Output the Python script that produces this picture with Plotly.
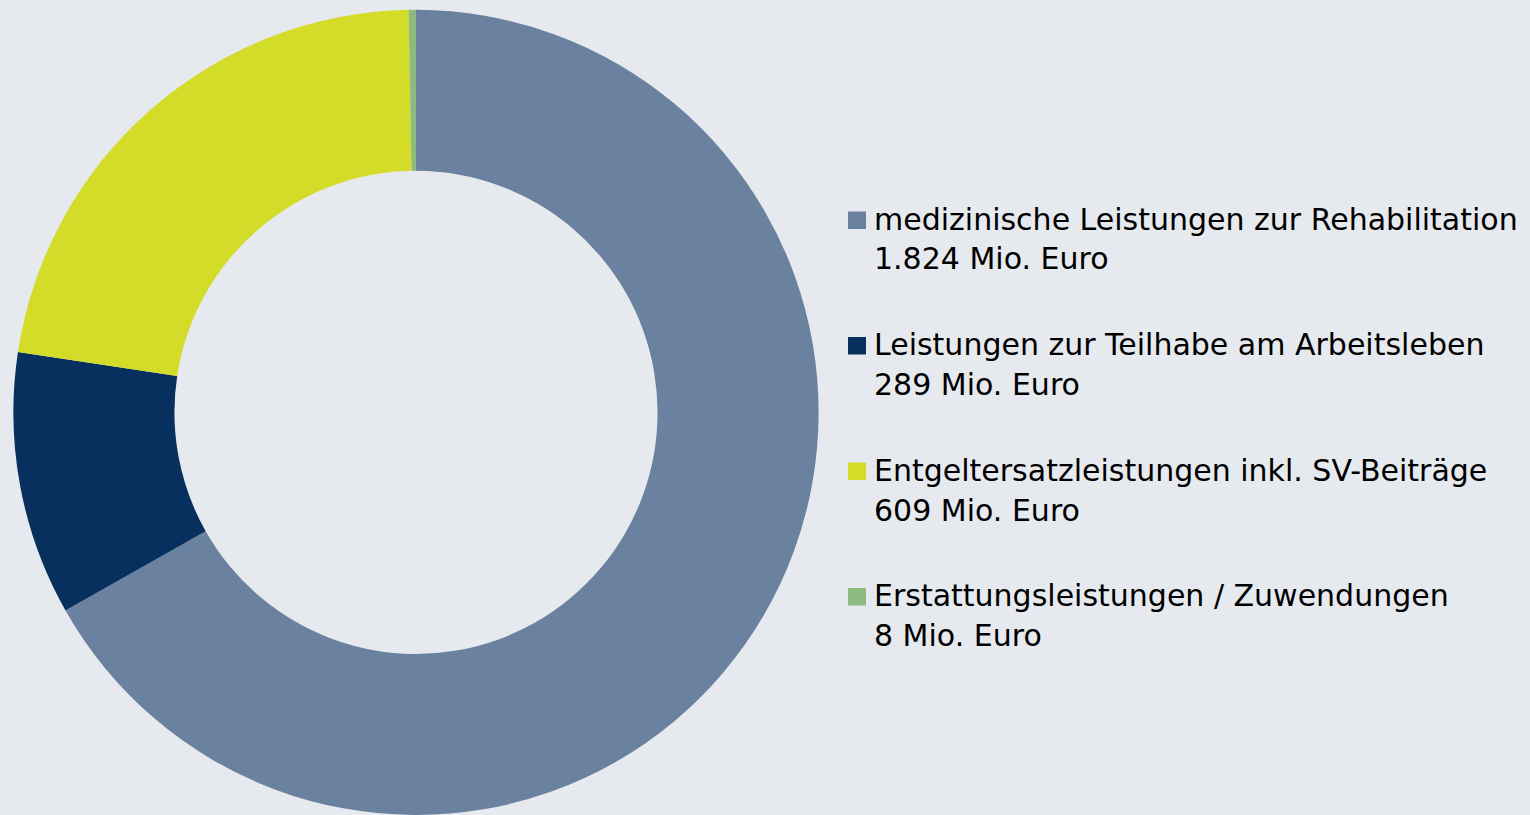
import plotly.graph_objects as go

W, H = 1530, 815

labels = [
    "medizinische Leistungen zur Rehabilitation",
    "Leistungen zur Teilhabe am Arbeitsleben",
    "Entgeltersatzleistungen inkl. SV-Beiträge",
    "Erstattungsleistungen / Zuwendungen",
]
values = [1824, 289, 609, 8]
value_labels = ["1.824 Mio. Euro", "289 Mio. Euro", "609 Mio. Euro", "8 Mio. Euro"]
colors = ["#6a829f", "#07305f", "#d4dc2a", "#8cba7f"]

bg = "#e6e9ee"

fig = go.Figure(
    go.Pie(
        labels=labels,
        values=values,
        hole=0.6,
        sort=False,
        direction="clockwise",
        rotation=0,
        marker=dict(colors=colors, line=dict(width=0)),
        textinfo="none",
        hoverinfo="label+value",
        domain=dict(x=[12 / W, 820 / W], y=[0.0, 0.988]),
        showlegend=False,
    )
)

font = dict(family="DejaVu Sans", size=30, color="#000000")
first_y = 219
step = 125.5
line_gap = 40
shapes = []
annotations = []
for i, (lab, val, col) in enumerate(zip(labels, value_labels, colors)):
    yc = first_y + i * step
    shapes.append(dict(
        type="rect", xref="paper", yref="paper",
        x0=848 / W, x1=866 / W, y0=1 - (yc + 10) / H, y1=1 - (yc - 7.5) / H,
        fillcolor=col, line=dict(width=0),
    ))
    annotations.append(dict(
        text=lab, xref="paper", yref="paper", x=872 / W, y=1 - yc / H,
        xanchor="left", yanchor="middle", showarrow=False, font=font,
    ))
    annotations.append(dict(
        text=val, xref="paper", yref="paper", x=872 / W, y=1 - (yc + line_gap) / H,
        xanchor="left", yanchor="middle", showarrow=False, font=font,
    ))

fig.update_layout(
    width=W, height=H,
    margin=dict(l=0, r=0, t=0, b=0),
    paper_bgcolor=bg, plot_bgcolor=bg,
    shapes=shapes, annotations=annotations,
)

fig.write_html(
    "out.html",
    config=dict(displayModeBar=False),
    post_script="document.body.style.margin='0';document.body.style.background='%s';" % bg,
)
